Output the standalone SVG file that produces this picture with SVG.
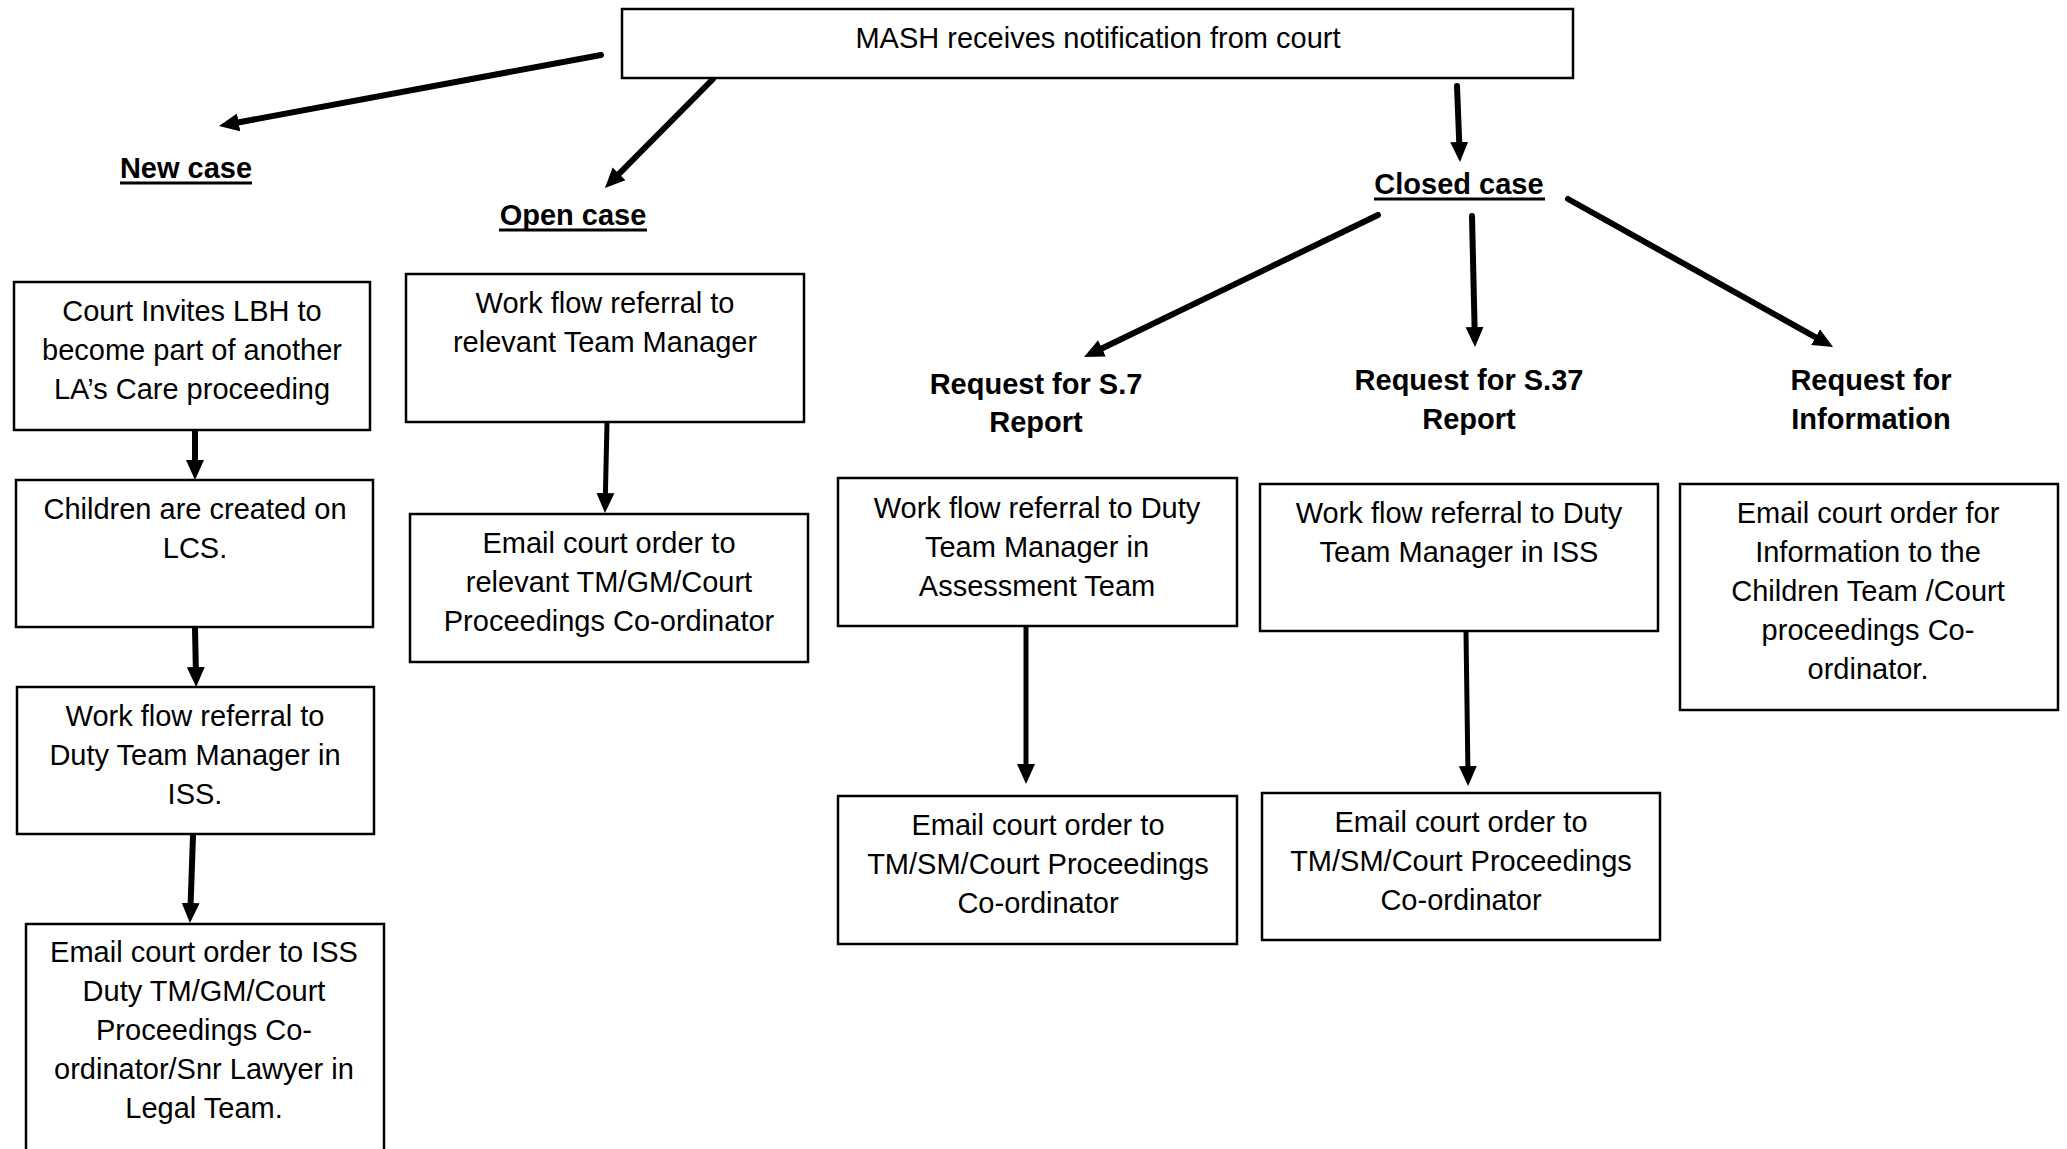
<svg xmlns="http://www.w3.org/2000/svg" width="2067" height="1149" viewBox="0 0 2067 1149">
  <defs>
    <style>
      .box { fill: #ffffff; stroke: #000000; stroke-width: 2.5; }
      .txt { font-family: "Liberation Sans", Arial, sans-serif; font-size: 29px; fill: #000000; text-anchor: middle; }
      .lbl { font-family: "Liberation Sans", Arial, sans-serif; font-size: 29px; font-weight: bold; fill: #000000; text-anchor: middle; }
      .ul { stroke: #000000; stroke-width: 3; }
      .conn { fill: none; stroke: #000000; stroke-width: 5; stroke-linecap: round; marker-end: url(#arrow); }
      .thick { stroke-width: 6; }
    </style>
    <marker id="arrow" markerUnits="userSpaceOnUse" markerWidth="22" markerHeight="20" viewBox="0 0 22 20" refX="10" refY="10" orient="auto">
      <path d="M0,1 L20,10 L0,19 z" fill="#000000"/>
    </marker>
  </defs>

  <rect width="2067" height="1149" fill="#ffffff"/>

  <!-- connectors -->
  <g id="connectors">
    <line class="conn thick" x1="601" y1="55" x2="228.8" y2="124.2"/>
    <line class="conn thick" x1="713" y1="79" x2="612" y2="180.9"/>
    <line class="conn thick" x1="1457" y1="86" x2="1459.6" y2="152"/>
    <line class="conn thick" x1="1378" y1="215" x2="1093" y2="352.7"/>
    <line class="conn thick" x1="1472" y1="216" x2="1474.8" y2="337"/>
    <line class="conn thick" x1="1568" y1="199" x2="1824.3" y2="342.1"/>
    <line class="conn thick" x1="195" y1="431" x2="195" y2="470"/>
    <line class="conn thick" x1="195" y1="628" x2="196" y2="677"/>
    <line class="conn thick" x1="193" y1="836" x2="190.3" y2="913"/>
    <line class="conn" x1="607" y1="423" x2="605.2" y2="503"/>
    <line class="conn" x1="1026" y1="627" x2="1026" y2="774"/>
    <line class="conn" x1="1466" y1="632" x2="1468" y2="776"/>
  </g>

  <!-- source notification -->
  <g id="mash">
    <rect class="box" x="622" y="9" width="951" height="69"/>
    <text class="txt" x="1098" y="48">MASH receives notification from court</text>
  </g>

  <!-- branch labels -->
  <g id="new-case">
    <text class="lbl" x="186" y="178">New case</text>
    <line class="ul" x1="120" y1="183" x2="252" y2="183"/>
  </g>
  <g id="open-case">
    <text class="lbl" x="573" y="225">Open case</text>
    <line class="ul" x1="499" y1="230" x2="647" y2="230"/>
  </g>
  <g id="closed-case">
    <text class="lbl" x="1459" y="194">Closed case</text>
    <line class="ul" x1="1374" y1="199" x2="1545" y2="199"/>
  </g>
  <g id="request-s7">
    <text class="lbl" x="1036" y="394">Request for S.7</text>
    <text class="lbl" x="1036" y="432">Report</text>
  </g>
  <g id="request-s37">
    <text class="lbl" x="1469" y="390">Request for S.37</text>
    <text class="lbl" x="1469" y="429">Report</text>
  </g>
  <g id="request-info">
    <text class="lbl" x="1871" y="390">Request for</text>
    <text class="lbl" x="1871" y="429">Information</text>
  </g>

  <!-- new case column -->
  <g id="court-invites">
    <rect class="box" x="14" y="282" width="356" height="148"/>
    <text class="txt" x="192" y="321">Court Invites LBH to</text>
    <text class="txt" x="192" y="360">become part of another</text>
    <text class="txt" x="192" y="399">LA’s Care proceeding</text>
  </g>
  <g id="children-created">
    <rect class="box" x="16" y="480" width="357" height="147"/>
    <text class="txt" x="195" y="519">Children are created on</text>
    <text class="txt" x="195" y="558">LCS.</text>
  </g>
  <g id="workflow-iss">
    <rect class="box" x="17" y="687" width="357" height="147"/>
    <text class="txt" x="195" y="726">Work flow referral to</text>
    <text class="txt" x="195" y="765">Duty Team Manager in</text>
    <text class="txt" x="195" y="804">ISS.</text>
  </g>
  <g id="email-iss">
    <rect class="box" x="26" y="924" width="358" height="240"/>
    <text class="txt" x="204" y="962">Email court order to ISS</text>
    <text class="txt" x="204" y="1001">Duty TM/GM/Court</text>
    <text class="txt" x="204" y="1040">Proceedings Co-</text>
    <text class="txt" x="204" y="1079">ordinator/Snr Lawyer in</text>
    <text class="txt" x="204" y="1118">Legal Team.</text>
  </g>

  <!-- open case column -->
  <g id="workflow-tm">
    <rect class="box" x="406" y="274" width="398" height="148"/>
    <text class="txt" x="605" y="313">Work flow referral to</text>
    <text class="txt" x="605" y="352">relevant Team Manager</text>
  </g>
  <g id="email-tm">
    <rect class="box" x="410" y="514" width="398" height="148"/>
    <text class="txt" x="609" y="553">Email court order to</text>
    <text class="txt" x="609" y="592">relevant TM/GM/Court</text>
    <text class="txt" x="609" y="631">Proceedings Co-ordinator</text>
  </g>

  <!-- closed case: S.7 -->
  <g id="workflow-assessment">
    <rect class="box" x="838" y="478" width="399" height="148"/>
    <text class="txt" x="1037" y="518">Work flow referral to Duty</text>
    <text class="txt" x="1037" y="557">Team Manager in</text>
    <text class="txt" x="1037" y="596">Assessment Team</text>
  </g>
  <g id="email-s7">
    <rect class="box" x="838" y="796" width="399" height="148"/>
    <text class="txt" x="1038" y="835">Email court order to</text>
    <text class="txt" x="1038" y="874">TM/SM/Court Proceedings</text>
    <text class="txt" x="1038" y="913">Co-ordinator</text>
  </g>

  <!-- closed case: S.37 -->
  <g id="workflow-s37">
    <rect class="box" x="1260" y="484" width="398" height="147"/>
    <text class="txt" x="1459" y="523">Work flow referral to Duty</text>
    <text class="txt" x="1459" y="562">Team Manager in ISS</text>
  </g>
  <g id="email-s37">
    <rect class="box" x="1262" y="793" width="398" height="147"/>
    <text class="txt" x="1461" y="832">Email court order to</text>
    <text class="txt" x="1461" y="871">TM/SM/Court Proceedings</text>
    <text class="txt" x="1461" y="910">Co-ordinator</text>
  </g>

  <!-- closed case: information -->
  <g id="email-info">
    <rect class="box" x="1680" y="484" width="378" height="226"/>
    <text class="txt" x="1868" y="523">Email court order for</text>
    <text class="txt" x="1868" y="562">Information to the</text>
    <text class="txt" x="1868" y="601">Children Team /Court</text>
    <text class="txt" x="1868" y="640">proceedings Co-</text>
    <text class="txt" x="1868" y="679">ordinator.</text>
  </g>
</svg>
